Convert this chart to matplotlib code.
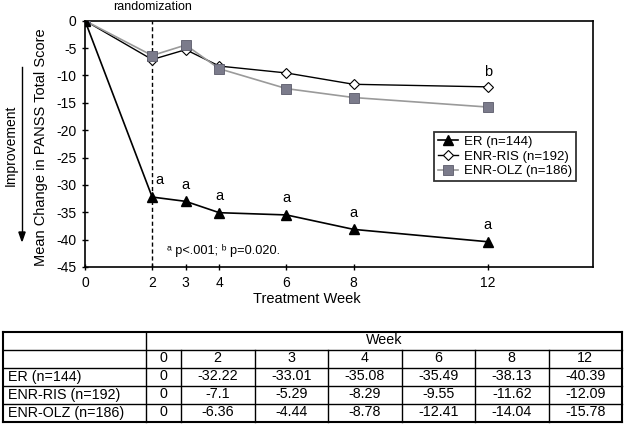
import numpy as np
import matplotlib.pyplot as plt

plt.rcParams['font.family'] = ['Liberation Sans', 'DejaVu Sans']
plt.rcParams['axes.unicode_minus'] = False

# data
weeks = [0, 2, 3, 4, 6, 8, 12]
er = [0, -32.22, -33.01, -35.08, -35.49, -38.13, -40.39]
ris = [0, -7.1, -5.29, -8.29, -9.55, -11.62, -12.09]
olz = [0, -6.36, -4.44, -8.78, -12.41, -14.04, -15.78]
labels = ['ER (n=144)', 'ENR-RIS (n=192)', 'ENR-OLZ (n=186)']
er_sig = ['', 'a', 'a', 'a', 'a', 'a', 'a']
table_vals = [
    ['0', '-32.22', '-33.01', '-35.08', '-35.49', '-38.13', '-40.39'],
    ['0', '-7.1', '-5.29', '-8.29', '-9.55', '-11.62', '-12.09'],
    ['0', '-6.36', '-4.44', '-8.78', '-12.41', '-14.04', '-15.78'],
]

fig = plt.figure(figsize=(6.25, 4.25), dpi=100)
ax = fig.add_axes([0.136, 0.3718, 0.8128, 0.5795])

ax.plot(weeks, er, color='black', lw=1.2, marker='^', ms=7,
        mfc='black', mec='black', label=labels[0], zorder=4)
ax.plot(weeks, ris, color='black', lw=1.0, marker='D', ms=5.5,
        mfc='white', mec='black', mew=0.8, label=labels[1], zorder=3)
ax.plot(weeks, olz, color='#9a9a9a', lw=1.2, marker='s', ms=7,
        mfc='#7b7b8b', mec='#5a5a6a', mew=0.6, label=labels[2], zorder=3)

ax.axvline(2, color='black', lw=1, ls=(0, (3, 2)), zorder=1)

# significance letters
for w, v, s in zip(weeks, er, er_sig):
    if s:
        dx = 5 if w == 2 else 0
        ax.annotate(s, (w, v), xytext=(dx, 12), textcoords='offset points',
                    ha='center', va='center', fontsize=10.5)
ax.annotate('b', (weeks[-1], ris[-1]), xytext=(0, 11), textcoords='offset points',
            ha='center', va='center', fontsize=10.5)

ax.text(2.45, -42, '\u1d43 p<.001; \u1d47 p=0.020.', fontsize=9.2,
        ha='left', va='center')
ax.text(2, 1.056, 'randomization', transform=ax.get_xaxis_transform(),
        ha='center', va='center', fontsize=9)

ax.set_xlim(0, 15.13)
ax.set_ylim(-45, 0)
ax.set_xticks(weeks)
ax.set_yticks(np.arange(-45, 1, 5))
ax.tick_params(axis='both', direction='inout', length=5, width=1, labelsize=10)
ax.tick_params(axis='x', pad=4)
for sp in ax.spines.values():
    sp.set_linewidth(1.2)

ax.set_xlabel('Treatment Week', fontsize=10.5)
ax.xaxis.label.set_va('center')
ax.xaxis.set_label_coords(0.437, -0.13)
ax.set_ylabel('Mean Change in PANSS Total Score', fontsize=10.5)
ax.yaxis.label.set_va('center')
ax.yaxis.set_label_coords(-0.0866, 0.487)

leg = ax.legend(loc='upper left', bbox_to_anchor=(0.687, 0.55), fontsize=9.5,
                frameon=True, fancybox=False, handlelength=1.5, handletextpad=0.45,
                borderpad=0.3, labelspacing=0.2, borderaxespad=0)
leg.get_frame().set_edgecolor('black')
leg.get_frame().set_linewidth(1.3)

# improvement arrow
fig.text(0.0176, 0.659, 'Improvement', rotation=90, ha='center', va='center', fontsize=10)
fig.add_artist(plt.Line2D([0.0352, 0.0352], [1 - 67 / 425, 1 - 232 / 425],
                          color='black', lw=1))
fig.patches.append(plt.Polygon([[0.0352 - 0.005, 1 - 232 / 425], [0.0352 + 0.005, 1 - 232 / 425],
                                [0.0352, 1 - 241 / 425]], closed=True, color='black',
                               transform=fig.transFigure, figure=fig))

# table
tab = fig.add_axes([0, 0, 1, 1])
tab.set_xlim(0, 625)
tab.set_ylim(425, 0)
tab.axis('off')
col_edges = [2.5, 146, 181] + [181 + 73.5 * k for k in range(1, 7)]
row_edges = [331.5 + 18 * k for k in range(6)]
lw = 1.0
for k, y in enumerate(row_edges):
    tab.plot([col_edges[0], col_edges[-1]], [y, y], color='black',
             lw=1.5 if k in (0, 5) else lw)
for k, x in enumerate(col_edges):
    y0 = row_edges[0] if k in (0, 1, len(col_edges) - 1) else row_edges[1]
    tab.plot([x, x], [y0, row_edges[-1]], color='black',
             lw=1.5 if k in (0, len(col_edges) - 1) else lw)
tfs = 10.3
tab.text((col_edges[1] + col_edges[-1]) / 2, (row_edges[0] + row_edges[1]) / 2, 'Week',
         ha='center', va='center', fontsize=tfs)
for j, w in enumerate(weeks):
    tab.text((col_edges[j + 1] + col_edges[j + 2]) / 2, (row_edges[1] + row_edges[2]) / 2,
             str(w), ha='center', va='center', fontsize=tfs)
for i, (lab, vals) in enumerate(zip(labels, table_vals)):
    yc = (row_edges[i + 2] + row_edges[i + 3]) / 2
    tab.text(col_edges[0] + 5, yc, lab, ha='left', va='center', fontsize=tfs)
    for j, v in enumerate(vals):
        tab.text((col_edges[j + 1] + col_edges[j + 2]) / 2, yc, v,
                 ha='center', va='center', fontsize=tfs)

fig.savefig('out.png', dpi=100)
